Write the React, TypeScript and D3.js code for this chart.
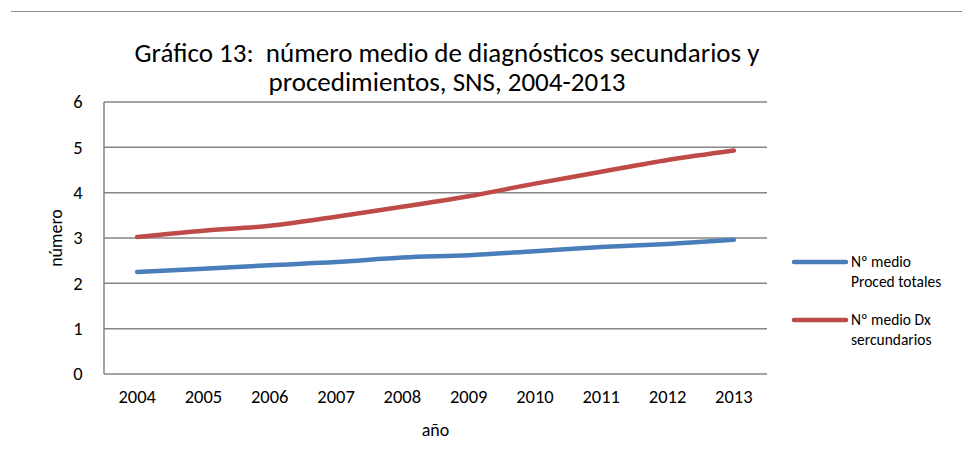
import * as d3 from 'd3'
import { useEffect, useRef } from 'react'

const years = ['2004', '2005', '2006', '2007', '2008', '2009', '2010', '2011', '2012', '2013']
const procedTotales = [2.25, 2.32, 2.4, 2.47, 2.57, 2.62, 2.71, 2.8, 2.87, 2.96]
const dxSecundarios = [3.02, 3.16, 3.27, 3.47, 3.69, 3.92, 4.2, 4.46, 4.72, 4.93]
const yTicks = [0, 1, 2, 3, 4, 5, 6]
const seriesNames = [['Nº medio', 'Proced totales'], ['Nº medio Dx', 'sercundarios']]
const titleLines = ['Gráfico 13:  número medio de diagnósticos secundarios y', 'procedimientos, SNS, 2004-2013']

const W = 962
const H = 450
const margin = { top: 102, right: 195, bottom: 76, left: 104 }
const font = 'Carlito, Calibri, "Open Sans", sans-serif'
const colors = ['#4a7ebb', '#be4b48']
const grid = '#868686'

export default function App() {
  const ref = useRef<SVGSVGElement>(null)

  useEffect(() => {
    const svg = d3.select(ref.current)
    svg.selectAll('*').remove()

    const innerW = W - margin.left - margin.right
    const innerH = H - margin.top - margin.bottom

    // top rule across the page
    svg.append('line')
      .attr('x1', 11).attr('x2', W).attr('y1', 11.5).attr('y2', 11.5)
      .attr('stroke', '#8c8c8c').attr('stroke-width', 1)

    // title
    svg.append('g').selectAll('text').data(titleLines).enter().append('text')
      .attr('x', 447).attr('y', (d, i) => 62 + i * 29)
      .attr('text-anchor', 'middle')
      .style('white-space', 'pre')
      .style('font-family', font).style('font-size', '27px').attr('fill', '#000')
      .text((d) => d)

    const g = svg.append('g').attr('transform', `translate(${margin.left}, ${margin.top})`)

    const x = d3.scaleBand().domain(years).range([0, innerW])
    const y = d3.scaleLinear().domain([0, 6]).range([innerH, 0])

    // gridlines
    g.selectAll('.grid').data(yTicks).enter().append('line')
      .attr('x1', 0).attr('x2', innerW)
      .attr('y1', (d) => y(d)).attr('y2', (d) => y(d))
      .attr('stroke', grid).attr('stroke-width', 1.5)

    // left axis line
    g.append('line').attr('x1', 0).attr('x2', 0).attr('y1', 0).attr('y2', innerH)
      .attr('stroke', grid).attr('stroke-width', 1.5)

    // y tick labels
    g.selectAll('.ylab').data(yTicks).enter().append('text')
      .attr('x', -26).attr('y', (d) => y(d)).attr('dy', '0.35em')
      .attr('text-anchor', 'middle')
      .style('font-family', font).style('font-size', '18.5px')
      .text((d) => d)

    // x tick labels
    g.selectAll('.xlab').data(years).enter().append('text')
      .attr('x', (d) => x(d)! + x.bandwidth() / 2).attr('y', innerH + 29)
      .attr('text-anchor', 'middle')
      .style('font-family', font).style('font-size', '18.5px')
      .text((d) => d)

    // axis titles
    g.append('text').attr('x', innerW / 2).attr('y', innerH + 62)
      .attr('text-anchor', 'middle')
      .style('font-family', font).style('font-size', '18px')
      .text('año')
    svg.append('text')
      .attr('transform', `translate(62, 238) rotate(-90)`)
      .attr('text-anchor', 'middle')
      .style('font-family', font).style('font-size', '18px')
      .text('número')

    // lines
    const line = d3.line<number>()
      .x((d, i) => x(years[i])! + x.bandwidth() / 2)
      .y((d) => y(d))
      .curve(d3.curveMonotoneX)
    ;[procedTotales, dxSecundarios].forEach((s, i) => {
      g.append('path').datum(s)
        .attr('d', line)
        .attr('fill', 'none')
        .attr('stroke', colors[i])
        .attr('stroke-width', 4.5)
        .attr('stroke-linecap', 'round')
        .attr('stroke-linejoin', 'round')
    })

    // legend
    const legend = svg.append('g')
    seriesNames.forEach((names, i) => {
      const ly = 262 + i * 58
      legend.append('line')
        .attr('x1', 794).attr('x2', 846).attr('y1', ly).attr('y2', ly)
        .attr('stroke', colors[i]).attr('stroke-width', 4.5).attr('stroke-linecap', 'round')
      legend.selectAll(null).data(names).enter().append('text')
        .attr('x', 851).attr('y', (d, j) => ly + 5 + j * 20)
        .style('font-family', font).style('font-size', '15.5px')
        .text((d) => d)
    })
  }, [])

  return (
    <div style={{ position: 'absolute', left: 0, top: 0 }}>
      <svg ref={ref} width={W} height={H} style={{ display: 'block', background: '#fff' }} />
    </div>
  )
}
